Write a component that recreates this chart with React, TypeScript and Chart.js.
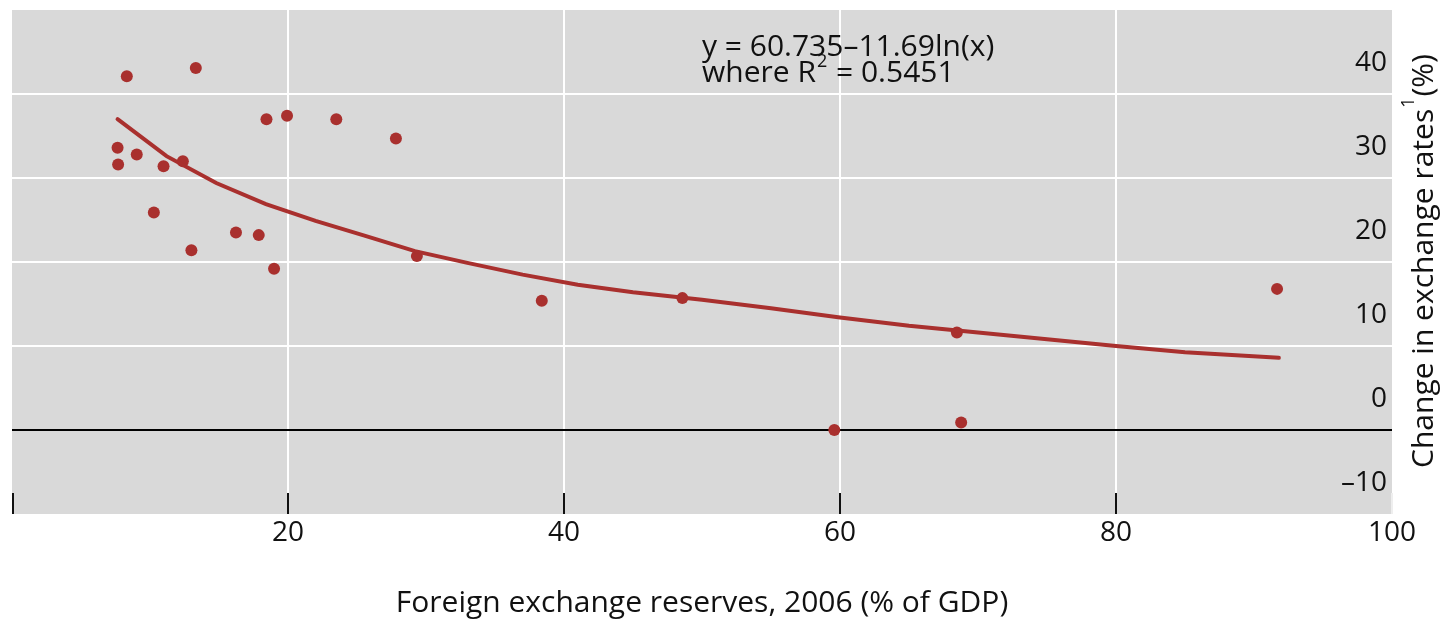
import React, { useEffect, useRef } from 'react';
import { Chart, registerables } from 'chart.js';

Chart.register(...registerables);

const FONT = '"Open Sans", "Noto Sans", "DejaVu Sans", sans-serif';
const TEXT = '#111111';
const RED = '#a9302e';
const PANEL = '#d9d9d9';

// Scatter points: foreign exchange reserves (% of GDP) vs change in exchange rates (%)
const reserves = [7.65, 7.69, 8.32, 9.04, 10.28, 10.98, 12.38, 13.0, 13.32, 16.23, 17.88, 18.44, 18.99, 19.93, 23.5, 27.82, 29.34, 38.39, 48.58, 59.59, 68.47, 68.78, 91.67];
const rateChange = [33.6, 31.6, 42.1, 32.8, 25.9, 31.4, 32.0, 21.4, 43.1, 23.5, 23.2, 37.0, 19.2, 37.4, 37.0, 34.7, 20.7, 15.4, 15.7, 0.0, 11.6, 0.9, 16.8];

// Fitted trend line
const trendX = [7.65, 11.2, 14.8, 18.4, 22, 25.6, 29.2, 33, 37, 41, 45, 50, 55, 60, 65, 70, 75, 80, 85, 91.8];
const trendY = [37.0, 32.6, 29.4, 26.9, 24.9, 23.1, 21.3, 19.9, 18.5, 17.3, 16.4, 15.5, 14.5, 13.4, 12.4, 11.6, 10.8, 10.0, 9.25, 8.6];

const xTicks = [0, 20, 40, 60, 80, 100];
const yTicks = [-10, 0, 10, 20, 30, 40, 50];

const xTitle = 'Foreign exchange reserves, 2006 (% of GDP)';
const yTitleMain = 'Change in exchange rates';
const yTitleSup = '1';
const yTitleEnd = '(%)';
const equationLine = 'y = 60.735\u201311.69ln(x)';
const r2Before = 'where R';
const r2Sup = '2';
const r2After = ' = 0.5451';

const decorPlugin = {
  id: 'decor',
  beforeDraw(chart: any) {
    const { ctx, chartArea: a } = chart;
    ctx.save();
    ctx.fillStyle = PANEL;
    ctx.fillRect(a.left, a.top, a.right - a.left, a.bottom - a.top);
    ctx.restore();
  },
  beforeDatasetsDraw(chart: any) {
    const { ctx, chartArea: a } = chart;
    const xs = chart.scales.x;
    ctx.save();
    ctx.lineWidth = 2;
    xTicks.forEach((v) => {
      const px = Math.round(xs.getPixelForValue(v)) + (v === 0 ? 1 : 0);
      ctx.strokeStyle = v === 100 ? '#eeeeee' : '#111111';
      ctx.beginPath();
      ctx.moveTo(px, a.bottom - 21);
      ctx.lineTo(px, a.bottom);
      ctx.stroke();
    });
    ctx.restore();
  },
  afterDraw(chart: any) {
    const { ctx } = chart;
    const xs = chart.scales.x;
    const ys = chart.scales.y;
    const big = `30px ${FONT}`;
    const small = `18px ${FONT}`;
    ctx.save();
    ctx.fillStyle = TEXT;
    ctx.textBaseline = 'alphabetic';
    ctx.textAlign = 'left';
    // Annotation
    const ax = xs.getPixelForValue(50);
    const b1 = ys.getPixelForValue(44.5);
    const b2 = ys.getPixelForValue(41.4);
    ctx.font = big;
    ctx.fillText(equationLine, ax, b1);
    ctx.fillText(r2Before, ax, b2);
    const w = ctx.measureText(r2Before).width;
    ctx.font = small;
    ctx.fillText(r2Sup, ax + w + 1, b2 - 15);
    const ws = ctx.measureText(r2Sup).width;
    ctx.font = big;
    ctx.fillText(r2After, ax + w + ws + 2, b2);

    // Rotated y title on the right
    ctx.font = big;
    const w1 = ctx.measureText(yTitleMain).width;
    const w3 = ctx.measureText(yTitleEnd).width;
    ctx.font = small;
    const w2 = ctx.measureText(yTitleSup).width;
    const total = w1 + w2 + w3 + 2;
    const cx = chart.width - 18;
    const cy = 261;
    ctx.translate(cx, cy);
    ctx.rotate(-Math.PI / 2);
    let p = -total / 2;
    ctx.font = big;
    ctx.fillText(yTitleMain, p, 0);
    p += w1 + 1;
    ctx.font = small;
    ctx.fillText(yTitleSup, p, -19);
    p += w2 + 1;
    ctx.font = big;
    ctx.fillText(yTitleEnd, p, 0);
    ctx.restore();
  },
};

export default function App() {
  const ref = useRef<HTMLCanvasElement | null>(null);

  useEffect(() => {
    if (!ref.current) return;
    const chart = new Chart(ref.current, {
      data: {
        datasets: [
          {
            type: 'line',
            data: trendX.map((x, i) => ({ x, y: trendY[i] })),
            borderColor: RED,
            borderWidth: 4,
            pointRadius: 0,
            tension: 0,
            fill: false,
            borderCapStyle: 'round',
          },
          {
            type: 'scatter',
            data: reserves.map((x, i) => ({ x, y: rateChange[i] })),
            backgroundColor: RED,
            borderColor: RED,
            borderWidth: 0,
            pointRadius: 6,
          },
        ],
      } as any,
      options: {
        responsive: false,
        animation: false,
        layout: { padding: { left: 12, top: 10, right: 0, bottom: 0 } },
        plugins: { legend: { display: false }, tooltip: { enabled: false } },
        scales: {
          x: {
            type: 'linear',
            min: 0,
            max: 100,
            afterBuildTicks: (s: any) => {
              s.ticks = xTicks.map((value) => ({ value }));
            },
            afterFit: (s: any) => {
              s.height = 106;
              s.paddingLeft = 0;
              s.paddingRight = 0;
            },
            border: { display: false },
            grid: {
              drawTicks: false,
              lineWidth: 2,
              color: (c: any) =>
                c.tick && (c.tick.value === 0 || c.tick.value === 100) ? 'rgba(0,0,0,0)' : '#ffffff',
            },
            ticks: {
              padding: 2,
              autoSkip: false,
              maxRotation: 0,
              color: TEXT,
              font: { family: FONT, size: 28 },
              callback: (v: any) => (v === 0 ? '' : String(v)),
            },
            title: {
              display: true,
              text: xTitle,
              color: TEXT,
              font: { family: FONT, size: 30, lineHeight: 1.07 },
              padding: { top: 0, bottom: 0 },
            },
          },
          y: {
            type: 'linear',
            position: 'right',
            min: -10,
            max: 50,
            afterBuildTicks: (s: any) => {
              s.ticks = yTicks.map((value) => ({ value }));
            },
            afterFit: (s: any) => {
              s.width = 59;
              s.paddingTop = 0;
              s.paddingBottom = 0;
            },
            border: { display: false },
            grid: {
              drawTicks: false,
              lineWidth: 2,
              color: (c: any) => {
                const v = c.tick ? c.tick.value : null;
                if (v === 0) return '#000000';
                if (v === -10 || v === 50) return 'rgba(0,0,0,0)';
                return '#ffffff';
              },
            },
            ticks: {
              mirror: true,
              padding: -5,
              labelOffset: -31,
              color: TEXT,
              font: { family: FONT, size: 28 },
              callback: (v: any) => (v === 50 ? '' : v < 0 ? '\u2013' + Math.abs(v) : String(v)),
            },
          },
        },
      },
      plugins: [decorPlugin],
    } as any);
    return () => chart.destroy();
  }, []);

  return (
    <div style={{ position: 'fixed', left: 0, top: 0, width: 1451, height: 620, background: '#ffffff' }}>
      <canvas ref={ref} width={1451} height={620} style={{ display: 'block' }} />
    </div>
  );
}
